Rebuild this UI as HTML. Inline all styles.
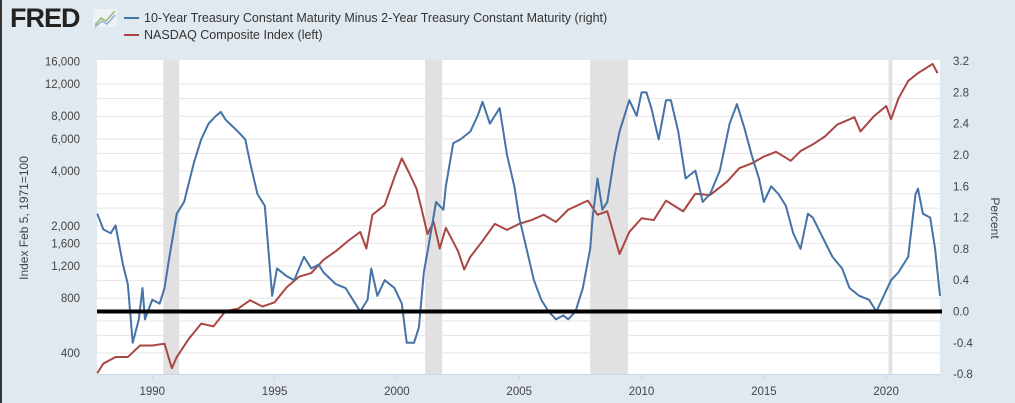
<!DOCTYPE html>
<html><head><meta charset="utf-8"><style>
body{margin:0;background:#e1e9f0;width:1015px;height:403px;overflow:hidden;font-family:"Liberation Sans",sans-serif;}
#wrap{position:relative;width:1015px;height:403px;border-left:2px solid #333;box-sizing:border-box;}
</style></head><body>
<div id="wrap">
<svg id="chart" width="1015" height="403" style="position:absolute;left:-2px;top:0">
<text x="10" y="27" font-size="27" font-weight="bold" fill="#222" style="letter-spacing:-1px">FRED</text>
<g><rect x="93" y="9" width="24" height="18" fill="#eef2f4"/><polyline points="95,25 101,18 106,21 115,11" fill="none" stroke="#9db87a" stroke-width="1.5"/><polyline points="95,27 102,21 107,24 115,15" fill="none" stroke="#8fb0cc" stroke-width="1.5"/></g>
<g><line x1="124" y1="18" x2="139" y2="18" stroke="#4572a7" stroke-width="2"/><text x="144" y="22" font-size="12.5" fill="#333">10-Year Treasury Constant Maturity Minus 2-Year Treasury Constant Maturity (right)</text></g>
<g><line x1="124" y1="35" x2="139" y2="35" stroke="#aa4643" stroke-width="2"/><text x="144" y="39" font-size="12.5" fill="#333">NASDAQ Composite Index (left)</text></g>
<rect x="97" y="60" width="843" height="314" fill="#fff"/>
<g id="rec"></g><g id="grid"></g><g id="axes"></g><g id="series"></g>
<text transform="translate(28,218) rotate(-90)" text-anchor="middle" font-size="12" fill="#444">Index Feb 5, 1971=100</text>
<text transform="translate(991,218) rotate(90)" text-anchor="middle" font-size="12" fill="#444">Percent</text>
</svg></div>
<script>
const leftTicks=[400,800,1200,1600,2000,4000,6000,8000,12000,16000];
const leftTickLabels=["400","800","1,200","1,600","2,000","4,000","6,000","8,000","12,000","16,000"];
const gridVals=[400,500,600,800,1000,1200,1600,2000,2500,3000,4000,5000,6000,8000,10000,12000];
const rightTicks=[-0.8,-0.4,0,0.4,0.8,1.2,1.6,2.0,2.4,2.8,3.2];
const rightTickLabels=["-0.8","-0.4","0.0","0.4","0.8","1.2","1.6","2.0","2.4","2.8","3.2"];
const yearTicks=[1990,1995,2000,2005,2010,2015,2020];
const recessions=[[1990.45,1991.1],[2001.15,2001.85],[2007.9,2009.45],[2020.1,2020.25]];
const nasdaqDates=[1987.75,1988.0,1988.5,1989.0,1989.5,1990.0,1990.5,1990.8,1991.0,1991.5,1992.0,1992.5,1993.0,1993.5,1994.0,1994.5,1995.0,1995.5,1996.0,1996.5,1997.0,1997.5,1998.0,1998.5,1998.75,1999.0,1999.5,1999.9,2000.2,2000.5,2000.8,2001.0,2001.25,2001.5,2001.75,2002.0,2002.5,2002.75,2003.0,2003.5,2004.0,2004.5,2005.0,2005.5,2006.0,2006.5,2007.0,2007.8,2008.2,2008.6,2009.1,2009.5,2010.0,2010.5,2011.0,2011.7,2012.2,2012.8,2013.5,2014.0,2014.5,2015.0,2015.5,2016.1,2016.5,2017.0,2017.5,2018.0,2018.7,2018.95,2019.5,2020.0,2020.2,2020.5,2020.9,2021.3,2021.9,2022.1];
const nasdaqValues=[310,350,380,380,440,440,450,330,380,480,580,560,680,700,780,720,760,920,1050,1100,1300,1450,1650,1850,1500,2300,2600,3700,4700,3900,3200,2500,1800,2100,1500,1950,1450,1150,1350,1650,2050,1900,2050,2150,2300,2100,2450,2750,2300,2400,1400,1850,2200,2150,2750,2400,3000,2950,3500,4150,4400,4800,5100,4550,5150,5600,6200,7200,7900,6600,8000,9100,7700,10000,12500,13800,15500,13800];
const spreadDates=[1987.75,1988.0,1988.3,1988.5,1988.8,1989.0,1989.2,1989.45,1989.6,1989.7,1990.0,1990.3,1990.5,1990.7,1991.0,1991.3,1991.7,1992.0,1992.3,1992.6,1992.8,1993.0,1993.5,1993.8,1994.0,1994.3,1994.6,1994.9,1995.1,1995.5,1995.8,1996.2,1996.5,1996.8,1997.0,1997.5,1997.9,1998.3,1998.5,1998.8,1998.95,1999.2,1999.5,1999.9,2000.2,2000.4,2000.7,2000.9,2001.1,2001.3,2001.6,2001.9,2002.0,2002.3,2002.6,2003.0,2003.3,2003.5,2003.8,2004.0,2004.2,2004.5,2004.8,2005.0,2005.3,2005.6,2005.9,2006.2,2006.5,2006.8,2007.0,2007.3,2007.6,2007.9,2008.0,2008.2,2008.4,2008.6,2008.9,2009.1,2009.3,2009.5,2009.8,2010.0,2010.2,2010.4,2010.7,2011.0,2011.2,2011.5,2011.8,2012.2,2012.5,2012.8,2013.2,2013.6,2013.9,2014.2,2014.5,2014.8,2015.0,2015.3,2015.6,2015.9,2016.2,2016.5,2016.8,2017.0,2017.4,2017.8,2018.2,2018.5,2018.9,2019.3,2019.6,2019.9,2020.2,2020.5,2020.9,2021.2,2021.3,2021.5,2021.8,2022.0,2022.2];
const spreadValues=[1.25,1.05,1.0,1.1,0.6,0.35,-0.4,-0.1,0.3,-0.1,0.15,0.1,0.3,0.7,1.25,1.4,1.9,2.2,2.4,2.5,2.55,2.45,2.3,2.2,1.9,1.5,1.35,0.2,0.55,0.45,0.4,0.7,0.55,0.6,0.5,0.35,0.3,0.1,0.0,0.15,0.55,0.2,0.4,0.3,0.1,-0.4,-0.4,-0.2,0.5,0.85,1.4,1.3,1.6,2.15,2.2,2.3,2.5,2.68,2.4,2.5,2.6,2.0,1.6,1.2,0.8,0.4,0.15,0.0,-0.1,-0.05,-0.1,0.0,0.3,0.8,1.2,1.7,1.3,1.4,2.0,2.3,2.5,2.7,2.5,2.8,2.8,2.6,2.2,2.7,2.7,2.3,1.7,1.8,1.4,1.5,1.8,2.4,2.65,2.35,2.0,1.7,1.4,1.6,1.5,1.35,1.0,0.8,1.25,1.2,0.95,0.7,0.55,0.3,0.2,0.15,0.0,0.2,0.4,0.5,0.7,1.5,1.57,1.25,1.2,0.8,0.2];
const X0=97,X1=940,T0=1987.74,T1=2022.2,YT=61,YB=374;
const xs=t=>X0+(t-T0)/(T1-T0)*(X1-X0);
const yl=v=>353-Math.log10(v/400)*182;
const yr=v=>311.5-v*(YB-YT)/4;
const NS="http://www.w3.org/2000/svg";
function mk(tag,attrs,parent){const e=document.createElementNS(NS,tag);for(const k in attrs)e.setAttribute(k,attrs[k]);document.getElementById(parent).appendChild(e);return e;}
recessions.forEach(r=>{const e=mk('rect',{x:xs(r[0]),y:60,width:xs(r[1])-xs(r[0]),height:314,fill:'#e1e1e1'},'rec');

});
gridVals.forEach(v=>{const e=mk('line',{x1:X0,x2:X1,y1:yl(v),y2:yl(v),stroke:'#e4e4e4','stroke-width':1},'grid');

});
leftTicks.forEach((v,i)=>{const e=mk('text',{x:80,y:yl(v)+4,'text-anchor':'end','font-size':11.5,fill:'#444'},'axes');e.textContent=leftTickLabels[i];

});
rightTicks.forEach((v,i)=>{const e=mk('text',{x:953,y:yr(v)+4,'font-size':11.5,fill:'#444'},'axes');e.textContent=rightTickLabels[i];

});
const ax=mk('line',{x1:X0,x2:X1,y1:374.5,y2:374.5,stroke:'#ccd6eb'},'axes');


yearTicks.forEach(y=>{mk('line',{x1:xs(y),x2:xs(y),y1:374,y2:380,stroke:'#ccd6eb'},'axes');const e=mk('text',{x:xs(y),y:395,'text-anchor':'middle','font-size':11.5,fill:'#444'},'axes');e.textContent=y;

});
const np=mk('polyline',{points:nasdaqDates.map((t,i)=>xs(t)+','+yl(nasdaqValues[i])).join(' '),fill:'none',stroke:'#aa4643','stroke-width':2,'stroke-linejoin':'round'},'series');


const sp=mk('polyline',{points:spreadDates.map((t,i)=>xs(t)+','+yr(spreadValues[i])).join(' '),fill:'none',stroke:'#4572a7','stroke-width':2,'stroke-linejoin':'round'},'series');


const z=mk('line',{x1:X0,x2:942,y1:yr(0),y2:yr(0),stroke:'#000','stroke-width':4},'series');


</script>
</body></html>
